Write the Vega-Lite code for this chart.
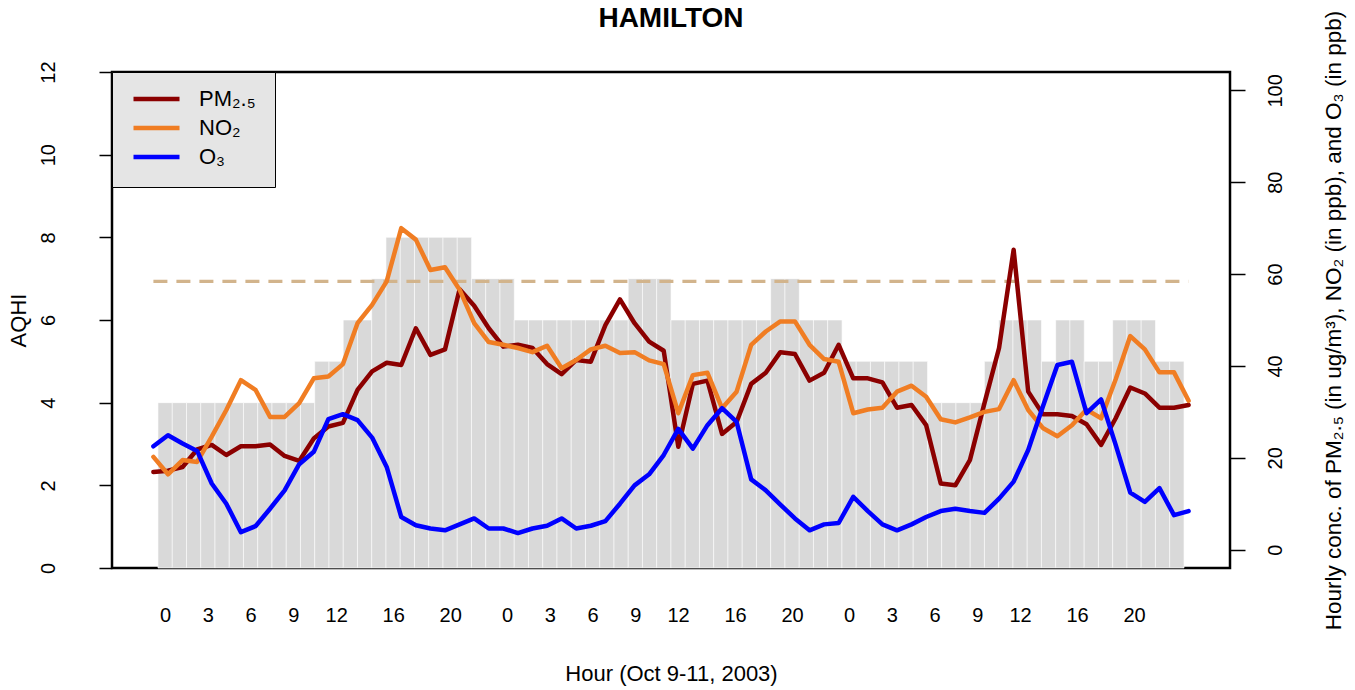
{
  "$schema": "https://vega.github.io/schema/vega-lite/v6.json",
  "width": 1118,
  "height": 496,
  "autosize": {"type": "none"},
  "padding": {"left": 112, "top": 72, "right": 125, "bottom": 122},
  "background": "white",
  "config": {
    "font": "Liberation Sans",
    "view": {"stroke": "black", "strokeWidth": 2.5},
    "axis": {"labelColor": "black", "titleColor": "black", "tickColor": "black", "labelFont": "Liberation Sans", "titleFont": "Liberation Sans"}
  },
  "title": {
    "text": "HAMILTON",
    "font": "Liberation Sans",
    "fontSize": 28,
    "fontWeight": "bold",
    "color": "black",
    "anchor": "middle",
    "frame": "group",
    "baseline": "alphabetic",
    "offset": -45
  },
  "datasets": {
    "aqhi": [
      {"hour": 0, "aqhi": 4}, {"hour": 1, "aqhi": 4}, {"hour": 2, "aqhi": 4}, {"hour": 3, "aqhi": 4},
      {"hour": 4, "aqhi": 4}, {"hour": 5, "aqhi": 4}, {"hour": 6, "aqhi": 4}, {"hour": 7, "aqhi": 4},
      {"hour": 8, "aqhi": 4}, {"hour": 9, "aqhi": 4}, {"hour": 10, "aqhi": 4}, {"hour": 11, "aqhi": 5},
      {"hour": 12, "aqhi": 5}, {"hour": 13, "aqhi": 6}, {"hour": 14, "aqhi": 6}, {"hour": 15, "aqhi": 7},
      {"hour": 16, "aqhi": 8}, {"hour": 17, "aqhi": 8}, {"hour": 18, "aqhi": 8}, {"hour": 19, "aqhi": 8},
      {"hour": 20, "aqhi": 8}, {"hour": 21, "aqhi": 8}, {"hour": 22, "aqhi": 7}, {"hour": 23, "aqhi": 7},
      {"hour": 24, "aqhi": 7}, {"hour": 25, "aqhi": 6}, {"hour": 26, "aqhi": 6}, {"hour": 27, "aqhi": 6},
      {"hour": 28, "aqhi": 6}, {"hour": 29, "aqhi": 6}, {"hour": 30, "aqhi": 6}, {"hour": 31, "aqhi": 6},
      {"hour": 32, "aqhi": 6}, {"hour": 33, "aqhi": 7}, {"hour": 34, "aqhi": 7}, {"hour": 35, "aqhi": 7},
      {"hour": 36, "aqhi": 6}, {"hour": 37, "aqhi": 6}, {"hour": 38, "aqhi": 6}, {"hour": 39, "aqhi": 6},
      {"hour": 40, "aqhi": 6}, {"hour": 41, "aqhi": 6}, {"hour": 42, "aqhi": 6}, {"hour": 43, "aqhi": 7},
      {"hour": 44, "aqhi": 7}, {"hour": 45, "aqhi": 6}, {"hour": 46, "aqhi": 6}, {"hour": 47, "aqhi": 6},
      {"hour": 48, "aqhi": 5}, {"hour": 49, "aqhi": 5}, {"hour": 50, "aqhi": 5}, {"hour": 51, "aqhi": 5},
      {"hour": 52, "aqhi": 5}, {"hour": 53, "aqhi": 5}, {"hour": 54, "aqhi": 4}, {"hour": 55, "aqhi": 4},
      {"hour": 56, "aqhi": 4}, {"hour": 57, "aqhi": 4}, {"hour": 58, "aqhi": 5}, {"hour": 59, "aqhi": 6},
      {"hour": 60, "aqhi": 6}, {"hour": 61, "aqhi": 6}, {"hour": 62, "aqhi": 5}, {"hour": 63, "aqhi": 6},
      {"hour": 64, "aqhi": 6}, {"hour": 65, "aqhi": 5}, {"hour": 66, "aqhi": 5}, {"hour": 67, "aqhi": 6},
      {"hour": 68, "aqhi": 6}, {"hour": 69, "aqhi": 6}, {"hour": 70, "aqhi": 5}, {"hour": 71, "aqhi": 5}
    ],
    "conc": [
      {"hour": 0, "pollutant": "PM₂.₅", "conc": 16.9}, {"hour": 1, "pollutant": "PM₂.₅", "conc": 17.2},
      {"hour": 2, "pollutant": "PM₂.₅", "conc": 18.0}, {"hour": 3, "pollutant": "PM₂.₅", "conc": 21.8},
      {"hour": 4, "pollutant": "PM₂.₅", "conc": 22.8}, {"hour": 5, "pollutant": "PM₂.₅", "conc": 20.6},
      {"hour": 6, "pollutant": "PM₂.₅", "conc": 22.5}, {"hour": 7, "pollutant": "PM₂.₅", "conc": 22.5},
      {"hour": 8, "pollutant": "PM₂.₅", "conc": 22.9}, {"hour": 9, "pollutant": "PM₂.₅", "conc": 20.4},
      {"hour": 10, "pollutant": "PM₂.₅", "conc": 19.3}, {"hour": 11, "pollutant": "PM₂.₅", "conc": 24.2},
      {"hour": 12, "pollutant": "PM₂.₅", "conc": 26.8}, {"hour": 13, "pollutant": "PM₂.₅", "conc": 27.6},
      {"hour": 14, "pollutant": "PM₂.₅", "conc": 34.8}, {"hour": 15, "pollutant": "PM₂.₅", "conc": 38.8},
      {"hour": 16, "pollutant": "PM₂.₅", "conc": 40.7}, {"hour": 17, "pollutant": "PM₂.₅", "conc": 40.2},
      {"hour": 18, "pollutant": "PM₂.₅", "conc": 48.2}, {"hour": 19, "pollutant": "PM₂.₅", "conc": 42.4},
      {"hour": 20, "pollutant": "PM₂.₅", "conc": 43.6}, {"hour": 21, "pollutant": "PM₂.₅", "conc": 56.7},
      {"hour": 22, "pollutant": "PM₂.₅", "conc": 53.1}, {"hour": 23, "pollutant": "PM₂.₅", "conc": 48.2},
      {"hour": 24, "pollutant": "PM₂.₅", "conc": 44.2}, {"hour": 25, "pollutant": "PM₂.₅", "conc": 44.6},
      {"hour": 26, "pollutant": "PM₂.₅", "conc": 43.9}, {"hour": 27, "pollutant": "PM₂.₅", "conc": 40.4},
      {"hour": 28, "pollutant": "PM₂.₅", "conc": 38.2}, {"hour": 29, "pollutant": "PM₂.₅", "conc": 41.3},
      {"hour": 30, "pollutant": "PM₂.₅", "conc": 40.9}, {"hour": 31, "pollutant": "PM₂.₅", "conc": 48.9},
      {"hour": 32, "pollutant": "PM₂.₅", "conc": 54.5}, {"hour": 33, "pollutant": "PM₂.₅", "conc": 49.3},
      {"hour": 34, "pollutant": "PM₂.₅", "conc": 45.3}, {"hour": 35, "pollutant": "PM₂.₅", "conc": 43.3},
      {"hour": 36, "pollutant": "PM₂.₅", "conc": 22.4}, {"hour": 37, "pollutant": "PM₂.₅", "conc": 36.1},
      {"hour": 38, "pollutant": "PM₂.₅", "conc": 36.8}, {"hour": 39, "pollutant": "PM₂.₅", "conc": 25.2},
      {"hour": 40, "pollutant": "PM₂.₅", "conc": 27.8}, {"hour": 41, "pollutant": "PM₂.₅", "conc": 36.1},
      {"hour": 42, "pollutant": "PM₂.₅", "conc": 38.5}, {"hour": 43, "pollutant": "PM₂.₅", "conc": 43.0},
      {"hour": 44, "pollutant": "PM₂.₅", "conc": 42.6}, {"hour": 45, "pollutant": "PM₂.₅", "conc": 36.8},
      {"hour": 46, "pollutant": "PM₂.₅", "conc": 38.5}, {"hour": 47, "pollutant": "PM₂.₅", "conc": 44.6},
      {"hour": 48, "pollutant": "PM₂.₅", "conc": 37.3}, {"hour": 49, "pollutant": "PM₂.₅", "conc": 37.3},
      {"hour": 50, "pollutant": "PM₂.₅", "conc": 36.4}, {"hour": 51, "pollutant": "PM₂.₅", "conc": 30.9},
      {"hour": 52, "pollutant": "PM₂.₅", "conc": 31.5}, {"hour": 53, "pollutant": "PM₂.₅", "conc": 27.1},
      {"hour": 54, "pollutant": "PM₂.₅", "conc": 14.4}, {"hour": 55, "pollutant": "PM₂.₅", "conc": 14.0},
      {"hour": 56, "pollutant": "PM₂.₅", "conc": 19.5}, {"hour": 57, "pollutant": "PM₂.₅", "conc": 31.9},
      {"hour": 58, "pollutant": "PM₂.₅", "conc": 43.9}, {"hour": 59, "pollutant": "PM₂.₅", "conc": 65.3},
      {"hour": 60, "pollutant": "PM₂.₅", "conc": 34.4}, {"hour": 61, "pollutant": "PM₂.₅", "conc": 29.5},
      {"hour": 62, "pollutant": "PM₂.₅", "conc": 29.5}, {"hour": 63, "pollutant": "PM₂.₅", "conc": 29.1},
      {"hour": 64, "pollutant": "PM₂.₅", "conc": 27.3}, {"hour": 65, "pollutant": "PM₂.₅", "conc": 22.8},
      {"hour": 66, "pollutant": "PM₂.₅", "conc": 28.6}, {"hour": 67, "pollutant": "PM₂.₅", "conc": 35.3},
      {"hour": 68, "pollutant": "PM₂.₅", "conc": 34.0}, {"hour": 69, "pollutant": "PM₂.₅", "conc": 30.9},
      {"hour": 70, "pollutant": "PM₂.₅", "conc": 30.9}, {"hour": 71, "pollutant": "PM₂.₅", "conc": 31.5},
      {"hour": 0, "pollutant": "NO₂", "conc": 20.2}, {"hour": 1, "pollutant": "NO₂", "conc": 16.4},
      {"hour": 2, "pollutant": "NO₂", "conc": 19.5}, {"hour": 3, "pollutant": "NO₂", "conc": 19.1},
      {"hour": 4, "pollutant": "NO₂", "conc": 24.6}, {"hour": 5, "pollutant": "NO₂", "conc": 30.4},
      {"hour": 6, "pollutant": "NO₂", "conc": 36.9}, {"hour": 7, "pollutant": "NO₂", "conc": 34.8},
      {"hour": 8, "pollutant": "NO₂", "conc": 28.9}, {"hour": 9, "pollutant": "NO₂", "conc": 28.9},
      {"hour": 10, "pollutant": "NO₂", "conc": 31.9}, {"hour": 11, "pollutant": "NO₂", "conc": 37.3},
      {"hour": 12, "pollutant": "NO₂", "conc": 37.7}, {"hour": 13, "pollutant": "NO₂", "conc": 40.4},
      {"hour": 14, "pollutant": "NO₂", "conc": 49.3}, {"hour": 15, "pollutant": "NO₂", "conc": 53.3},
      {"hour": 16, "pollutant": "NO₂", "conc": 58.4}, {"hour": 17, "pollutant": "NO₂", "conc": 70.0},
      {"hour": 18, "pollutant": "NO₂", "conc": 67.5}, {"hour": 19, "pollutant": "NO₂", "conc": 60.9},
      {"hour": 20, "pollutant": "NO₂", "conc": 61.5}, {"hour": 21, "pollutant": "NO₂", "conc": 56.6},
      {"hour": 22, "pollutant": "NO₂", "conc": 49.3}, {"hour": 23, "pollutant": "NO₂", "conc": 45.2},
      {"hour": 24, "pollutant": "NO₂", "conc": 44.6}, {"hour": 25, "pollutant": "NO₂", "conc": 43.9},
      {"hour": 26, "pollutant": "NO₂", "conc": 43.0}, {"hour": 27, "pollutant": "NO₂", "conc": 44.4},
      {"hour": 28, "pollutant": "NO₂", "conc": 39.5}, {"hour": 29, "pollutant": "NO₂", "conc": 41.3},
      {"hour": 30, "pollutant": "NO₂", "conc": 43.6}, {"hour": 31, "pollutant": "NO₂", "conc": 44.4},
      {"hour": 32, "pollutant": "NO₂", "conc": 42.8}, {"hour": 33, "pollutant": "NO₂", "conc": 43.0},
      {"hour": 34, "pollutant": "NO₂", "conc": 41.2}, {"hour": 35, "pollutant": "NO₂", "conc": 40.4},
      {"hour": 36, "pollutant": "NO₂", "conc": 29.7}, {"hour": 37, "pollutant": "NO₂", "conc": 38.0},
      {"hour": 38, "pollutant": "NO₂", "conc": 38.5}, {"hour": 39, "pollutant": "NO₂", "conc": 30.8},
      {"hour": 40, "pollutant": "NO₂", "conc": 34.4}, {"hour": 41, "pollutant": "NO₂", "conc": 44.6},
      {"hour": 42, "pollutant": "NO₂", "conc": 47.5}, {"hour": 43, "pollutant": "NO₂", "conc": 49.7},
      {"hour": 44, "pollutant": "NO₂", "conc": 49.7}, {"hour": 45, "pollutant": "NO₂", "conc": 44.6},
      {"hour": 46, "pollutant": "NO₂", "conc": 41.5}, {"hour": 47, "pollutant": "NO₂", "conc": 40.9},
      {"hour": 48, "pollutant": "NO₂", "conc": 29.7}, {"hour": 49, "pollutant": "NO₂", "conc": 30.5},
      {"hour": 50, "pollutant": "NO₂", "conc": 30.9}, {"hour": 51, "pollutant": "NO₂", "conc": 34.4},
      {"hour": 52, "pollutant": "NO₂", "conc": 35.7}, {"hour": 53, "pollutant": "NO₂", "conc": 33.3},
      {"hour": 54, "pollutant": "NO₂", "conc": 28.4}, {"hour": 55, "pollutant": "NO₂", "conc": 27.7},
      {"hour": 56, "pollutant": "NO₂", "conc": 28.8}, {"hour": 57, "pollutant": "NO₂", "conc": 30.0},
      {"hour": 58, "pollutant": "NO₂", "conc": 30.6}, {"hour": 59, "pollutant": "NO₂", "conc": 36.9},
      {"hour": 60, "pollutant": "NO₂", "conc": 30.4}, {"hour": 61, "pollutant": "NO₂", "conc": 26.5},
      {"hour": 62, "pollutant": "NO₂", "conc": 24.7}, {"hour": 63, "pollutant": "NO₂", "conc": 27.1},
      {"hour": 64, "pollutant": "NO₂", "conc": 30.5}, {"hour": 65, "pollutant": "NO₂", "conc": 28.6},
      {"hour": 66, "pollutant": "NO₂", "conc": 37.1}, {"hour": 67, "pollutant": "NO₂", "conc": 46.5},
      {"hour": 68, "pollutant": "NO₂", "conc": 43.6}, {"hour": 69, "pollutant": "NO₂", "conc": 38.6},
      {"hour": 70, "pollutant": "NO₂", "conc": 38.6}, {"hour": 71, "pollutant": "NO₂", "conc": 32.4},
      {"hour": 0, "pollutant": "O₃", "conc": 22.5}, {"hour": 1, "pollutant": "O₃", "conc": 24.9},
      {"hour": 2, "pollutant": "O₃", "conc": 23.1}, {"hour": 3, "pollutant": "O₃", "conc": 21.5},
      {"hour": 4, "pollutant": "O₃", "conc": 14.4}, {"hour": 5, "pollutant": "O₃", "conc": 10.0},
      {"hour": 6, "pollutant": "O₃", "conc": 3.8}, {"hour": 7, "pollutant": "O₃", "conc": 5.1},
      {"hour": 8, "pollutant": "O₃", "conc": 8.9}, {"hour": 9, "pollutant": "O₃", "conc": 12.9},
      {"hour": 10, "pollutant": "O₃", "conc": 18.6}, {"hour": 11, "pollutant": "O₃", "conc": 21.3},
      {"hour": 12, "pollutant": "O₃", "conc": 28.4}, {"hour": 13, "pollutant": "O₃", "conc": 29.5},
      {"hour": 14, "pollutant": "O₃", "conc": 28.2}, {"hour": 15, "pollutant": "O₃", "conc": 24.4},
      {"hour": 16, "pollutant": "O₃", "conc": 18.0}, {"hour": 17, "pollutant": "O₃", "conc": 7.1},
      {"hour": 18, "pollutant": "O₃", "conc": 5.3}, {"hour": 19, "pollutant": "O₃", "conc": 4.6},
      {"hour": 20, "pollutant": "O₃", "conc": 4.2}, {"hour": 21, "pollutant": "O₃", "conc": 5.5},
      {"hour": 22, "pollutant": "O₃", "conc": 6.8}, {"hour": 23, "pollutant": "O₃", "conc": 4.6},
      {"hour": 24, "pollutant": "O₃", "conc": 4.6}, {"hour": 25, "pollutant": "O₃", "conc": 3.6},
      {"hour": 26, "pollutant": "O₃", "conc": 4.6}, {"hour": 27, "pollutant": "O₃", "conc": 5.2},
      {"hour": 28, "pollutant": "O₃", "conc": 6.8}, {"hour": 29, "pollutant": "O₃", "conc": 4.6},
      {"hour": 30, "pollutant": "O₃", "conc": 5.2}, {"hour": 31, "pollutant": "O₃", "conc": 6.2},
      {"hour": 32, "pollutant": "O₃", "conc": 10.0}, {"hour": 33, "pollutant": "O₃", "conc": 14.0},
      {"hour": 34, "pollutant": "O₃", "conc": 16.4}, {"hour": 35, "pollutant": "O₃", "conc": 20.6},
      {"hour": 36, "pollutant": "O₃", "conc": 26.3}, {"hour": 37, "pollutant": "O₃", "conc": 22.0},
      {"hour": 38, "pollutant": "O₃", "conc": 27.1}, {"hour": 39, "pollutant": "O₃", "conc": 30.8},
      {"hour": 40, "pollutant": "O₃", "conc": 27.8}, {"hour": 41, "pollutant": "O₃", "conc": 15.3},
      {"hour": 42, "pollutant": "O₃", "conc": 12.9}, {"hour": 43, "pollutant": "O₃", "conc": 9.8},
      {"hour": 44, "pollutant": "O₃", "conc": 6.8}, {"hour": 45, "pollutant": "O₃", "conc": 4.2},
      {"hour": 46, "pollutant": "O₃", "conc": 5.5}, {"hour": 47, "pollutant": "O₃", "conc": 5.8},
      {"hour": 48, "pollutant": "O₃", "conc": 11.5}, {"hour": 49, "pollutant": "O₃", "conc": 8.4},
      {"hour": 50, "pollutant": "O₃", "conc": 5.5}, {"hour": 51, "pollutant": "O₃", "conc": 4.2},
      {"hour": 52, "pollutant": "O₃", "conc": 5.5}, {"hour": 53, "pollutant": "O₃", "conc": 7.1},
      {"hour": 54, "pollutant": "O₃", "conc": 8.4}, {"hour": 55, "pollutant": "O₃", "conc": 8.9},
      {"hour": 56, "pollutant": "O₃", "conc": 8.4}, {"hour": 57, "pollutant": "O₃", "conc": 8.0},
      {"hour": 58, "pollutant": "O₃", "conc": 11.1}, {"hour": 59, "pollutant": "O₃", "conc": 14.8},
      {"hour": 60, "pollutant": "O₃", "conc": 21.7}, {"hour": 61, "pollutant": "O₃", "conc": 31.1},
      {"hour": 62, "pollutant": "O₃", "conc": 40.2}, {"hour": 63, "pollutant": "O₃", "conc": 40.9},
      {"hour": 64, "pollutant": "O₃", "conc": 29.7}, {"hour": 65, "pollutant": "O₃", "conc": 32.7},
      {"hour": 66, "pollutant": "O₃", "conc": 22.8}, {"hour": 67, "pollutant": "O₃", "conc": 12.4},
      {"hour": 68, "pollutant": "O₃", "conc": 10.4}, {"hour": 69, "pollutant": "O₃", "conc": 13.4},
      {"hour": 70, "pollutant": "O₃", "conc": 7.5}, {"hour": 71, "pollutant": "O₃", "conc": 8.4}
    ]
  },
  "layer": [
    {
      "data": {"name": "aqhi"},
      "mark": {"type": "bar", "width": 14.38, "color": "#D9D9D9", "stroke": "white", "strokeWidth": 0.6},
      "encoding": {
        "x": {
          "field": "hour",
          "type": "quantitative",
          "scale": {"domain": [-3.38, 74.38], "nice": false, "zero": false},
          "axis": {
            "values": [0, 3, 6, 9, 12, 16, 20, 24, 27, 30, 33, 36, 40, 44, 48, 51, 54, 57, 60, 64, 68],
            "labelExpr": "datum.value % 24",
            "ticks": false,
            "tickSize": 0,
            "domain": false,
            "grid": false,
            "labelFontSize": 20,
            "labelAngle": 0,
            "labelAlign": "center",
            "labelBaseline": "alphabetic",
            "labelPadding": 53,
            "labelOverlap": false,
            "labelFlush": false,
            "title": "Hour (Oct 9-11, 2003)",
            "titleFontSize": 22,
            "titleFontWeight": "normal",
            "titleBaseline": "alphabetic",
            "titleAlign": "center",
            "titleX": 559,
            "titleY": 112
          }
        },
        "y": {
          "field": "aqhi",
          "type": "quantitative",
          "scale": {"domain": [0, 12], "nice": false, "zero": false},
          "axis": {
            "title": "AQHI",
            "values": [0, 2, 4, 6, 8, 10, 12],
            "grid": false,
            "domain": false,
            "tickSize": 13,
            "tickWidth": 1.5,
            "labelFontSize": 20,
            "labelAngle": 270,
            "labelAlign": "center",
            "labelBaseline": "alphabetic",
            "labelPadding": 45,
            "labelOverlap": false,
            "labelFlush": false,
            "titleFontSize": 22,
            "titleFontWeight": "normal",
            "titleAngle": 270,
            "titleAlign": "center",
            "titleBaseline": "alphabetic",
            "titleX": -87,
            "titleY": 248
          }
        }
      }
    },
    {
      "data": {"values": [{"threshold": 58.4}]},
      "mark": {"type": "rule", "color": "#D2B48C", "strokeWidth": 3.3, "strokeDash": [14, 9]},
      "encoding": {
        "x": {"datum": 0, "type": "quantitative", "scale": {"domain": [-2.84, 73.84], "nice": false, "zero": false}, "axis": null},
        "x2": {"datum": 71},
        "y": {"field": "threshold", "type": "quantitative", "scale": {"domain": [-4, 104], "nice": false, "zero": false}, "axis": null}
      }
    },
    {
      "data": {"name": "conc"},
      "mark": {"type": "line", "strokeWidth": 4.5, "strokeJoin": "round", "strokeCap": "round"},
      "encoding": {
        "x": {
          "field": "hour",
          "type": "quantitative",
          "scale": {"domain": [-2.84, 73.84], "nice": false, "zero": false},
          "axis": null
        },
        "y": {
          "field": "conc",
          "type": "quantitative",
          "scale": {"domain": [-4, 104], "nice": false, "zero": false},
          "axis": {
            "orient": "right",
            "title": "Hourly conc. of PM₂.₅ (in ug/m³), NO₂ (in ppb), and O₃ (in ppb)",
            "values": [0, 20, 40, 60, 80, 100],
            "grid": false,
            "domain": false,
            "tickSize": 15,
            "tickWidth": 1.5,
            "labelFontSize": 20,
            "labelAngle": 270,
            "labelAlign": "center",
            "labelBaseline": "alphabetic",
            "labelPadding": 36,
            "labelOverlap": false,
            "labelFlush": false,
            "titleFontSize": 22.5,
            "titleFontWeight": "normal",
            "titleAngle": 270,
            "titleAlign": "center",
            "titleBaseline": "alphabetic",
            "titleX": 110,
            "titleY": 248
          }
        },
        "color": {
          "field": "pollutant",
          "type": "nominal",
          "scale": {"domain": ["PM₂.₅", "NO₂", "O₃"], "range": ["#8B0000", "#F07D23", "#0000FF"]},
          "legend": {
            "orient": "none",
            "legendX": 0,
            "legendY": 0,
            "title": null,
            "symbolType": "stroke",
            "symbolSize": 2116,
            "symbolStrokeWidth": 4.5,
            "labelFontSize": 22,
            "labelFont": "Liberation Sans",
            "labelColor": "black",
            "labelOffset": 17,
            "fillColor": "#E5E5E5",
            "strokeColor": "black",
            "padding": 19,
            "rowPadding": 7,
            "clipHeight": 16
          }
        }
      }
    }
  ],
  "resolve": {
    "scale": {"x": "independent", "y": "independent"},
    "axis": {"x": "independent", "y": "independent"}
  }
}
